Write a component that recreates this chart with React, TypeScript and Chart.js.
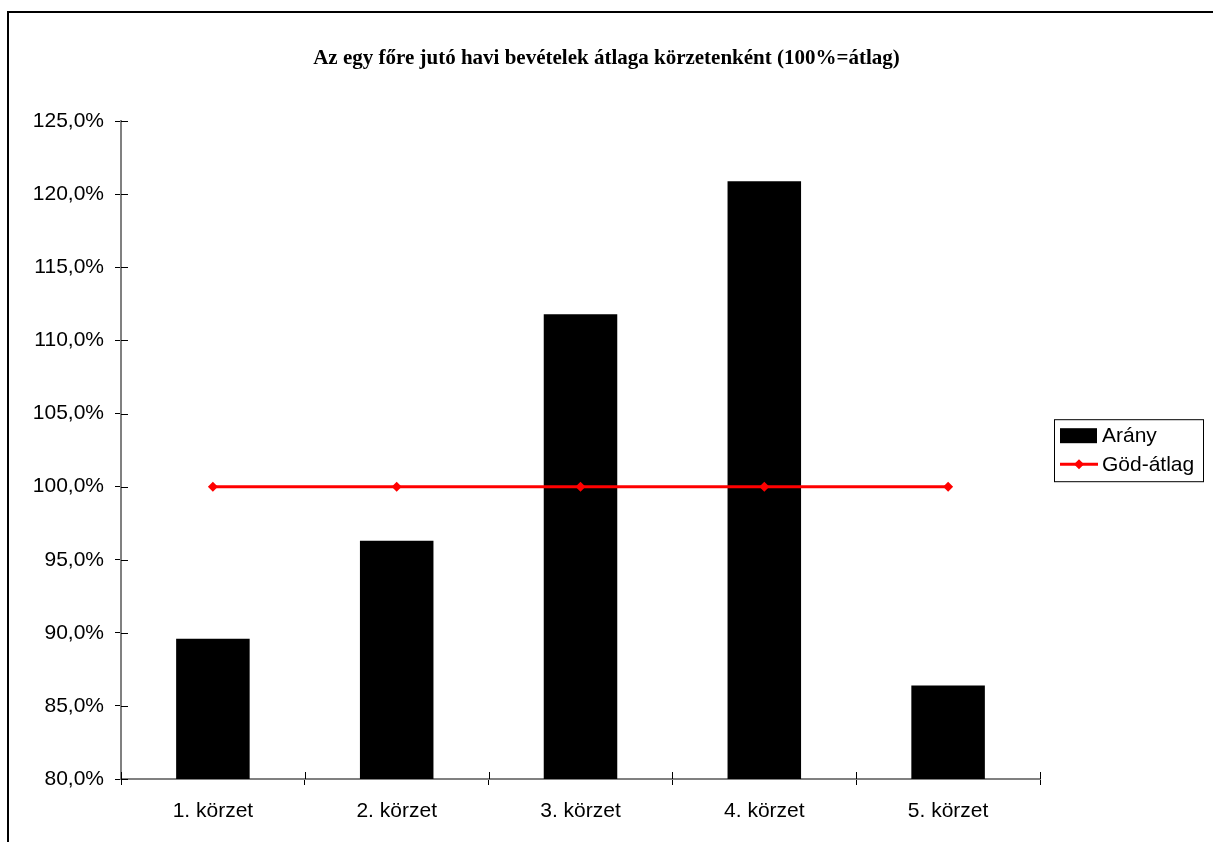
import React, { useEffect, useRef } from "react";
import { Chart, registerables } from "chart.js";

Chart.register(...registerables);

const categories = ["1. körzet", "2. körzet", "3. körzet", "4. körzet", "5. körzet"];
const aranyValues = [89.6, 96.3, 111.8, 120.9, 86.4];
const godAtlagValues = [100, 100, 100, 100, 100];
const seriesLabels = ["Arány", "Göd-átlag"];
const titleText = "Az egy főre jutó havi bevételek átlaga körzetenként (100%=átlag)";
const yMin = 80;
const yMax = 125;
const yStep = 5;

const FONT = "'Liberation Sans', Arial, sans-serif";

const innerTicks = {
  id: "innerTicks",
  afterDraw(chart: any) {
    const ctx = chart.ctx;
    const x = chart.scales.x;
    const y = chart.scales.y;
    ctx.save();
    ctx.strokeStyle = "#000";
    ctx.lineWidth = 1;
    ctx.beginPath();
    y.ticks.forEach((t: any) => {
      const py = Math.round(y.getPixelForValue(t.value)) + 0.5;
      ctx.moveTo(y.right, py);
      ctx.lineTo(y.right + 7, py);
    });
    for (let i = 0; i <= categories.length; i++) {
      const px = Math.round(x.getPixelForValue(i - 0.5)) + 0.5;
      ctx.moveTo(px, x.top);
      ctx.lineTo(px, x.top - 7);
    }
    ctx.stroke();
    ctx.restore();
  },
};

const boxLegend = {
  id: "boxLegend",
  afterDraw(chart: any) {
    const ctx = chart.ctx;
    const area = chart.chartArea;
    const left = area.right + 14;
    const top = area.top + 298;
    const w = 149;
    const h = 62;
    ctx.save();
    ctx.strokeStyle = "#000";
    ctx.lineWidth = 1;
    ctx.strokeRect(left + 0.5, top + 0.5, w, h);
    ctx.font = `21px ${FONT}`;
    ctx.textBaseline = "middle";
    const ds = chart.data.datasets;
    const bar = ds.find((d: any) => d.type === "bar");
    const line = ds.find((d: any) => d.type === "line");
    // bar item
    const y1 = top + 16;
    ctx.fillStyle = bar.backgroundColor;
    ctx.fillRect(left + 6, y1 - 7, 37, 15);
    ctx.fillStyle = "#000";
    ctx.fillText(bar.label, left + 48, y1 + 1);
    // line item
    const y2 = top + 45;
    ctx.strokeStyle = line.borderColor;
    ctx.lineWidth = 3;
    ctx.beginPath();
    ctx.moveTo(left + 6, y2);
    ctx.lineTo(left + 44, y2);
    ctx.stroke();
    ctx.fillStyle = line.borderColor;
    ctx.beginPath();
    const cx = left + 25;
    ctx.moveTo(cx, y2 - 5);
    ctx.lineTo(cx + 5, y2);
    ctx.lineTo(cx, y2 + 5);
    ctx.lineTo(cx - 5, y2);
    ctx.closePath();
    ctx.fill();
    ctx.fillStyle = "#000";
    ctx.fillText(line.label, left + 48, y2 + 1);
    ctx.restore();
  },
};

export default function App() {
  const canvasRef = useRef<HTMLCanvasElement | null>(null);

  useEffect(() => {
    const canvas = canvasRef.current;
    if (!canvas) return;
    const chart = new Chart(canvas, {
      type: "bar",
      data: {
        labels: categories,
        datasets: [
          {
            type: "bar",
            label: seriesLabels[0],
            data: aranyValues,
            backgroundColor: "#000000",
            borderWidth: 0,
            barPercentage: 0.4,
            categoryPercentage: 1,
            order: 1,
          } as any,
          {
            type: "line",
            label: seriesLabels[1],
            data: godAtlagValues,
            borderColor: "#ff0000",
            backgroundColor: "#ff0000",
            borderWidth: 3,
            pointStyle: "rectRot",
            pointRadius: 5,
            pointBackgroundColor: "#ff0000",
            pointBorderColor: "#ff0000",
            pointBorderWidth: 0,
            fill: false,
            order: 0,
          } as any,
        ],
      },
      options: {
        responsive: false,
        animation: false,
        devicePixelRatio: 1,
        layout: { padding: 0 },
        plugins: {
          legend: { display: false },
          tooltip: { enabled: false },
          title: {
            display: true,
            text: titleText,
            color: "#000",
            font: { family: "'Liberation Serif', 'Times New Roman', serif", size: 21, weight: "bold" },
            padding: { top: 46, bottom: 50 },
          },
        },
        scales: {
          x: {
            offset: true,
            grid: {
              offset: true,
              drawOnChartArea: false,
              drawTicks: true,
              tickLength: 6,
              tickColor: "#000",
              tickWidth: 1,
            },
            border: { display: true, color: "#808080", width: 2 },
            ticks: {
              color: "#000",
              font: { family: FONT, size: 21 },
              padding: 14,
              maxRotation: 0,
            },
            afterFit: (s: any) => {
              s.height = 63;
            },
          },
          y: {
            min: yMin,
            max: yMax,
            grid: {
              drawOnChartArea: false,
              drawTicks: true,
              tickLength: 6,
              tickColor: "#000",
              tickWidth: 1,
            },
            border: { display: true, color: "#808080", width: 2 },
            ticks: {
              stepSize: yStep,
              color: "#000",
              font: { family: FONT, size: 21 },
              padding: 11,
              callback: (v: any) => Number(v).toFixed(1).replace(".", ",") + "%",
            },
            afterFit: (s: any) => {
              s.width = 121;
            },
          },
          legendSpace: {
            type: "linear",
            position: "right",
            display: true,
            grid: { display: false, drawTicks: false },
            border: { display: false },
            ticks: { display: false },
            afterFit: (s: any) => {
              s.width = 173;
            },
          },
        },
      } as any,
      plugins: [innerTicks, boxLegend],
    });
    return () => chart.destroy();
  }, []);

  return (
    <div style={{ position: "fixed", left: 0, top: 0, width: 1213, height: 842, overflow: "hidden", background: "#fff" }}>
      <div
        style={{
          position: "absolute",
          left: 7,
          top: 11,
          width: 1300,
          height: 900,
          border: "2px solid #000",
          boxSizing: "border-box",
        }}
      />
      <canvas
        ref={canvasRef}
        width={1213}
        height={842}
        style={{ position: "absolute", left: 0, top: 0, width: 1213, height: 842 }}
      />
    </div>
  );
}
